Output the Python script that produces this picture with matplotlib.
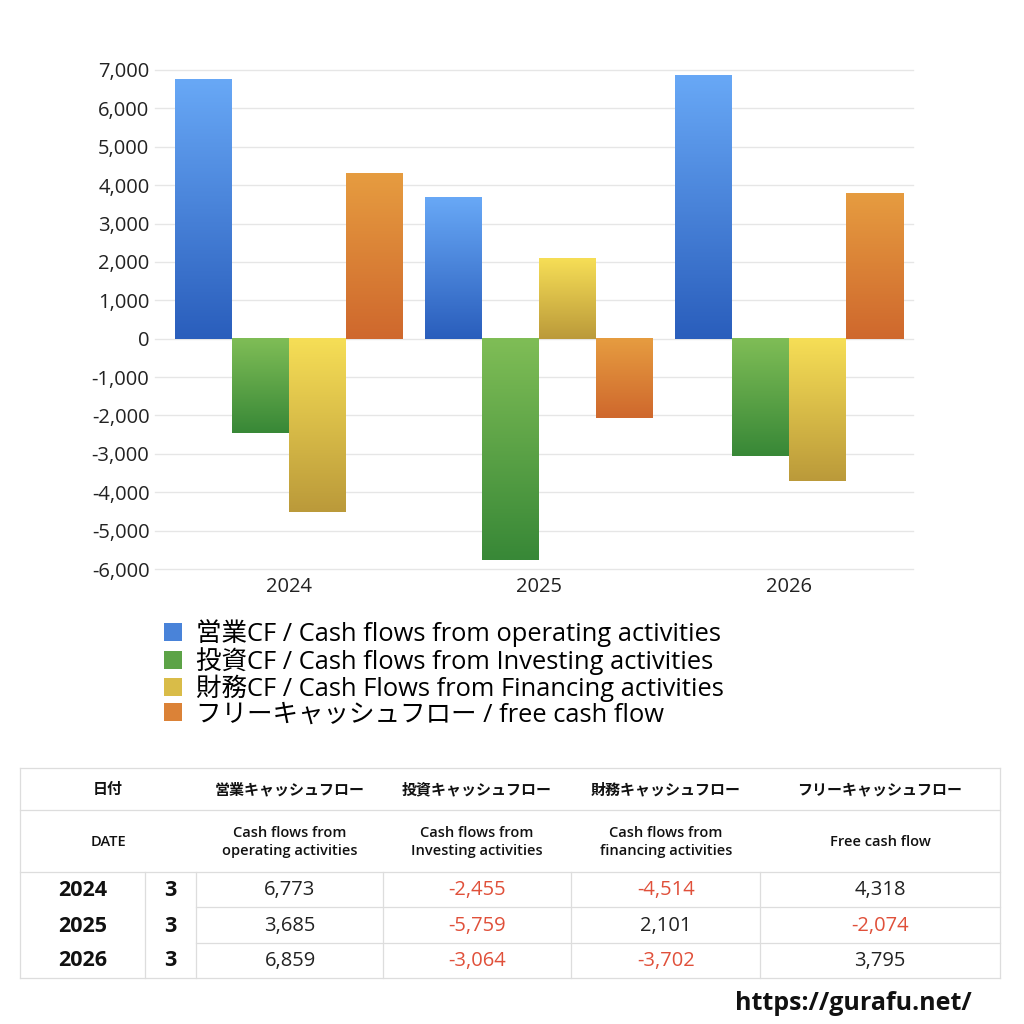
import numpy as np
import matplotlib
matplotlib.use('Agg')
from matplotlib import pyplot as plt
from matplotlib.colors import LinearSegmentedColormap
from matplotlib.patches import Patch
from matplotlib.lines import Line2D
from matplotlib.ticker import FuncFormatter

plt.rcParams['font.family'] = ['Open Sans', 'Noto Sans CJK JP', 'DejaVu Sans']

years = ['2024', '2025', '2026']
months = ['3', '3', '3']
operating = [6773, 3685, 6859]
investing = [-2455, -5759, -3064]
financing = [-4514, 2101, -3702]
free_cf = [4318, -2074, 3795]

legend_labels = ['営業CF / Cash flows from operating activities',
                 '投資CF / Cash flows from Investing activities',
                 '財務CF / Cash Flows from Financing activities',
                 'フリーキャッシュフロー / free cash flow']
head_jp = ['日付', '営業キャッシュフロー', '投資キャッシュフロー', '財務キャッシュフロー', 'フリーキャッシュフロー']
head_en = ['DATE', 'Cash flows from\noperating activities', 'Cash flows from\nInvesting activities',
           'Cash flows from\nfinancing activities', 'Free cash flow']

# top colour, bottom colour of each series gradient
grads = [('#68a8f6', '#2a5ebc'), ('#7fbd56', '#388837'), ('#f6de56', '#bb9a3a'), ('#e69c40', '#cf682d')]

series = [operating, investing, financing, free_cf]

fig = plt.figure(figsize=(10.24, 10.24), dpi=100)
ax = fig.add_axes([155 / 1024, 1 - 569 / 1024, (913 - 155) / 1024, 499 / 1024])

w = 0.228
x = np.arange(len(years))
for i, vals in enumerate(series):
    cmap = LinearSegmentedColormap.from_list('g%d' % i, [grads[i][1], grads[i][0]])
    pos = x + (i - 1.5) * w
    bars = ax.bar(pos, vals, w, color='none', edgecolor='none')
    for b in bars:
        x0, y0 = b.get_x(), b.get_y()
        x1, y1 = x0 + b.get_width(), y0 + b.get_height()
        grad = np.linspace(1, 0, 100).reshape(-1, 1)
        ax.imshow(grad, extent=[x0, x1, min(y0, y1), max(y0, y1)], aspect='auto',
                  cmap=cmap, vmin=0, vmax=1, zorder=2)

ax.set_xlim(-0.535, 2.497)
ax.set_ylim(-6000, 7000)
ax.set_yticks(range(-6000, 7001, 1000))
ax.yaxis.set_major_formatter(FuncFormatter(lambda v, p: '{:,.0f}'.format(v)))
ax.set_xticks(x)
ax.set_xticklabels(years)
ax.grid(axis='y', color='#e6e6e6', linewidth=1, zorder=0)
for gl in ax.get_ygridlines():
    gl.set_clip_on(False)
ax.set_axisbelow(True)
for s in ax.spines.values():
    s.set_visible(False)
ax.tick_params(axis='both', length=0, labelsize=14.5, colors='#222222')
ax.tick_params(axis='y', pad=4)
ax.tick_params(axis='x', pad=6)

handles = [Patch(facecolor=LinearSegmentedColormap.from_list('h', [g[1], g[0]])(0.5), edgecolor='none')
           for g in grads]
fig.legend(handles, legend_labels, loc='upper left', bbox_to_anchor=(164 / 1024, 1 - 619 / 1024),
           frameon=False, fontsize=18.4, handlelength=0.72, handleheight=0.72, handletextpad=0.55,
           labelspacing=0.0, borderpad=0, borderaxespad=0)

# table
def fx(px):
    return px / 1024

def fy(py):
    return 1 - py / 1024

line_c = '#dddddd'
def hline(y, x0=20, x1=1000):
    fig.add_artist(Line2D([fx(x0), fx(x1)], [fy(y), fy(y)], color=line_c, linewidth=0.9))

def vline(xp, y0, y1):
    fig.add_artist(Line2D([fx(xp), fx(xp)], [fy(y0), fy(y1)], color=line_c, linewidth=0.9))

hline(768)
hline(810)
hline(872)
hline(907, 196)
hline(943, 196)
hline(978)
vline(20, 768, 978)
vline(1000, 768, 978)
for xp in [145, 196, 383, 571, 760]:
    vline(xp, 872, 978)

col_centers = [108, 290, 477, 666, 880]
for c, t in zip(col_centers, head_jp):
    fig.text(fx(c), fy(790), t, ha='center', va='center', fontsize=10.8, fontweight='bold', color='#111111')
for c, t in zip(col_centers, head_en):
    fig.text(fx(c), fy(842), t, ha='center', va='center', fontsize=10.5, fontweight='semibold',
             color='#111111', linespacing=1.35)

row_y = [890, 926, 961]
for r in range(len(years)):
    fig.text(fx(83), fy(row_y[r]), years[r], ha='center', va='center', fontsize=15.5, fontweight='bold', color='#111111')
    fig.text(fx(170), fy(row_y[r]), months[r], ha='center', va='center', fontsize=15.5, fontweight='bold', color='#111111')
    for c, vals in zip(col_centers[1:], series):
        v = vals[r]
        fig.text(fx(c), fy(row_y[r]), '{:,}'.format(v), ha='center', va='center', fontsize=14.5,
                 color='#e0503a' if v < 0 else '#222222')

fig.text(fx(972), fy(1004), 'https://gurafu.net/', ha='right', va='center', fontsize=18,
         fontweight='bold', color='#111111')

plt.savefig('out.png', dpi=100)
